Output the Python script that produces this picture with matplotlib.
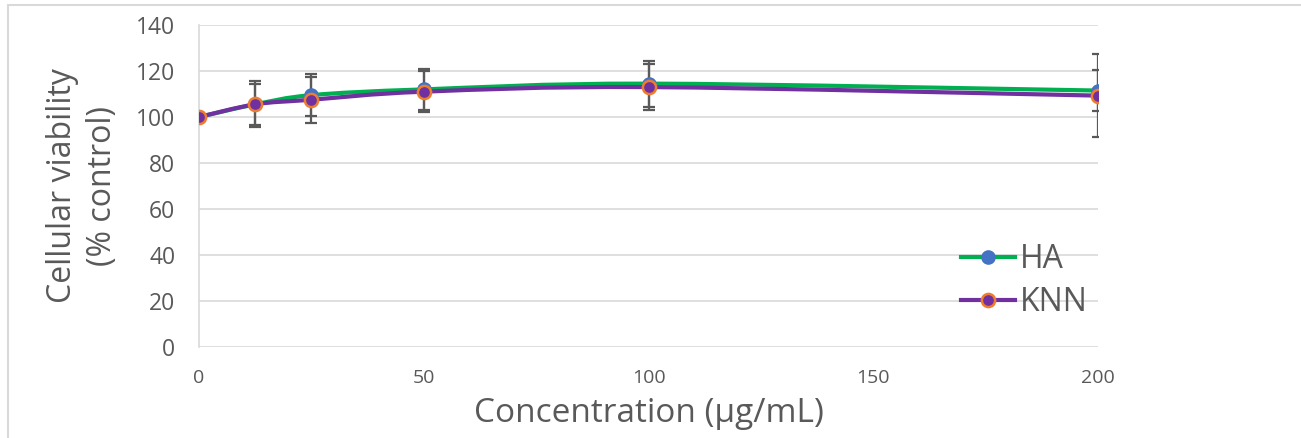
import numpy as np
import matplotlib.pyplot as plt
from matplotlib.path import Path
from matplotlib.patches import PathPatch, Rectangle
from matplotlib.lines import Line2D

conc = [0, 12.5, 25, 50, 100, 200]
ha_mean = [100, 105.5, 109.5, 112, 114.5, 111.5]
ha_err = [0, 10, 9, 9, 10, 9]
knn_mean = [100, 105.5, 107.5, 111, 113, 109.3]
knn_err = [0, 9, 10, 9, 10, 18]

TXT = "#595959"
W, H = 1301, 438
plt.rcParams["font.family"] = ["Open Sans", "DejaVu Sans"]


def smooth_path(xs, ys, tension=0.5):
    # Excel-style smoothed line: Catmull-Rom segments as cubic Bezier curves
    pts = np.column_stack([xs, ys]).astype(float)
    verts = [pts[0]]
    codes = [Path.MOVETO]
    n = len(pts)
    for i in range(n - 1):
        p0 = pts[max(i - 1, 0)]
        p1 = pts[i]
        p2 = pts[i + 1]
        p3 = pts[min(i + 2, n - 1)]
        c1 = p1 + (p2 - p0) * tension / 3
        c2 = p2 - (p3 - p1) * tension / 3
        verts += [c1, c2, p2]
        codes += [Path.CURVE4] * 3
    return Path(verts, codes)


fig = plt.figure(figsize=(W / 100, H / 100), dpi=100)
ax = fig.add_axes([199 / W, 1 - 347 / H, (1098 - 199) / W, (347 - 25) / H])

# chart area border (only top and left edges are inside the picture)
fig.patches.append(Rectangle((7.5 / W, -0.05), 1.0, 1 - 5.5 / H + 0.05, transform=fig.transFigure,
                             fill=False, edgecolor="#D9D9D9", linewidth=1.5))

ax.errorbar(conc, ha_mean, yerr=ha_err, fmt="none", ecolor="#595959",
            elinewidth=1.6, capsize=4.5, capthick=1.6, zorder=2)
ax.errorbar(conc, knn_mean, yerr=knn_err, fmt="none", ecolor="#595959",
            elinewidth=1.6, capsize=4.5, capthick=1.6, zorder=2)

ax.add_patch(PathPatch(smooth_path(conc, ha_mean), fill=False, edgecolor="#00B050",
                       linewidth=3, zorder=3))
ax.plot(conc, ha_mean, "o", color="#4472C4", markersize=9.5, zorder=4)
ax.add_patch(PathPatch(smooth_path(conc, knn_mean), fill=False, edgecolor="#7030A0",
                       linewidth=3, zorder=5))
ax.plot(conc, knn_mean, "o", markerfacecolor="#7030A0", markeredgecolor="#ED7D31",
        markeredgewidth=1.8, markersize=9.5, zorder=6)

ax.set_xlim(0, 200)
ax.set_ylim(0, 140)
ax.set_yticks(range(0, 141, 20))
ax.set_xticks([0, 50, 100, 150, 200])
ax.grid(axis="y", color="#D9D9D9", linewidth=1.2)
ax.set_axisbelow(True)
for s in ["top", "right", "bottom"]:
    ax.spines[s].set_visible(False)
ax.spines["left"].set_color("#D9D9D9")
ax.spines["left"].set_linewidth(1.2)
ax.tick_params(axis="y", length=0, pad=17, labelsize=16.5, labelcolor=TXT)
ax.tick_params(axis="x", length=0, pad=16, labelsize=14, labelcolor=TXT)

ax.set_xlabel("Concentration (\u03bcg/mL)", fontsize=24, color=TXT, labelpad=7)
ax.set_ylabel("Cellular viability\n(% control)", fontsize=23, color=TXT, labelpad=12,
              linespacing=1.3)

handles = [
    Line2D([], [], color="#00B050", linewidth=3, marker="o", markersize=9.5,
           markerfacecolor="#4472C4", markeredgecolor="#4472C4"),
    Line2D([], [], color="#7030A0", linewidth=3, marker="o", markersize=9.5,
           markerfacecolor="#7030A0", markeredgecolor="#ED7D31", markeredgewidth=1.8),
]
fig.legend(handles, ["HA", "KNN"], loc="upper left",
           bbox_to_anchor=(961 / W, 1 - 243 / H), bbox_transform=fig.transFigure,
           frameon=False, fontsize=23, labelcolor=TXT, handlelength=1.7,
           handletextpad=0.15, labelspacing=0.32, borderpad=0, borderaxespad=0)

fig.savefig("out.png", dpi=100)
